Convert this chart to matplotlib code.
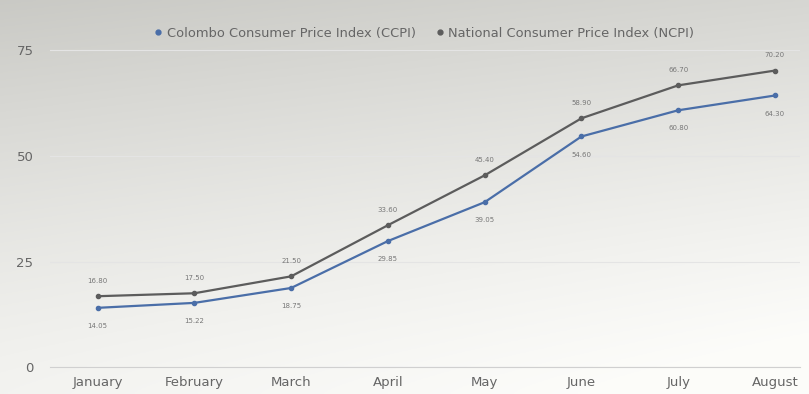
import matplotlib
matplotlib.use('Agg')
import matplotlib.pyplot as plt
from matplotlib.lines import Line2D
import numpy as np

months = ['January', 'February', 'March', 'April', 'May', 'June', 'July', 'August']
ccpi = [14.05, 15.22, 18.75, 29.85, 39.05, 54.60, 60.80, 64.30]
ncpi = [16.80, 17.50, 21.50, 33.60, 45.40, 58.90, 66.70, 70.20]
y_ticks = [0, 25, 50, 75]

ccpi_color = '#4a6ea8'
ncpi_color = '#5c5c5c'

fig = plt.figure(figsize=(8.09, 3.94), dpi=100)

# grey-to-white background wash behind everything
bg = fig.add_axes([0, 0, 1, 1], zorder=0)
yy, xx = np.mgrid[0:1:200j, 0:1:400j]
shade = np.clip(0.65 * (1 - yy) ** 1.3 + 0.2 * (1 - xx) - 0.05, 0, 1)
img = np.dstack([0.99 - 0.25 * shade, 0.99 - 0.25 * shade, 0.98 - 0.26 * shade])
bg.imshow(img, aspect='auto', extent=[0, 1, 0, 1], origin='upper')
bg.axis('off')

ax = fig.add_axes([0.062, 0.068, 0.927, 0.858], zorder=1)
ax.patch.set_alpha(0)
x = np.arange(len(months))

ax.plot(x, ccpi, color=ccpi_color, lw=1.6, marker='o', ms=3)
ax.plot(x, ncpi, color=ncpi_color, lw=1.6, marker='o', ms=3)

for i in x:
    ax.annotate(f'{ccpi[i]:.2f}', (i, ccpi[i]), xytext=(0, -13), textcoords='offset points',
                ha='center', va='center', fontsize=5, color='#777777')
    ax.annotate(f'{ncpi[i]:.2f}', (i, ncpi[i]), xytext=(0, 11), textcoords='offset points',
                ha='center', va='center', fontsize=5, color='#777777')

ax.set_xlim(-0.49, 7.26)
ax.set_ylim(0, 80)
ax.set_xticks(x)
ax.set_xticklabels(months)
ax.set_yticks(y_ticks)
ax.tick_params(length=0, labelsize=9.5, colors='#666666')
ax.tick_params(axis='y', pad=12)
ax.tick_params(axis='x', pad=6)
ax.grid(axis='y', color='#e4e4e4', lw=0.8)
for s in ['top', 'right', 'left']:
    ax.spines[s].set_visible(False)
ax.spines['bottom'].set_color('#d0d0d0')

handles = [Line2D([], [], ls='none', marker='o', ms=3.5, color=ccpi_color),
           Line2D([], [], ls='none', marker='o', ms=3.5, color=ncpi_color)]
labels = ['Colombo Consumer Price Index (CCPI)', 'National Consumer Price Index (NCPI)']
fig.legend(handles, labels, loc='center', bbox_to_anchor=(0.525, 0.915), ncol=2, frameon=False,
           fontsize=9.4, labelcolor='#666666', handlelength=0.5,
           columnspacing=1.6, handletextpad=0.4)

fig.savefig('out.png', dpi=100)
